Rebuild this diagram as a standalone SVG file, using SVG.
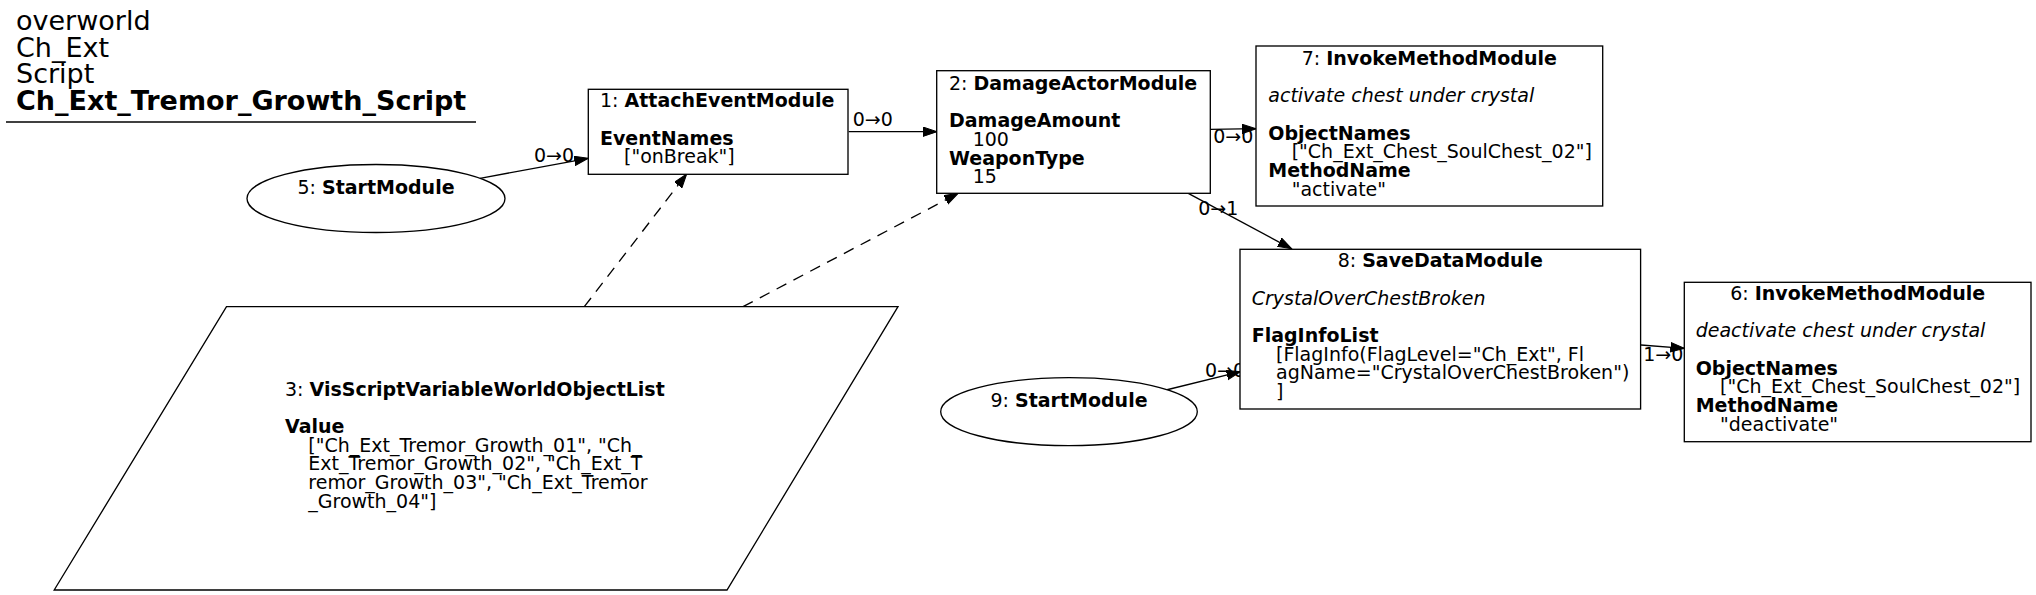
<svg xmlns="http://www.w3.org/2000/svg" width="2036" height="595" viewBox="0 0 2036 595">
<style>
text{font-family:"DejaVu Sans","Liberation Sans",sans-serif;font-size:19px;fill:#000}
.t{font-size:27px}
.b{font-weight:bold}
.i{font-style:italic}
.m{text-anchor:middle}
.box{fill:#fff;stroke:#000;stroke-width:1.33}
.e{fill:none;stroke:#000;stroke-width:1.33}
.d{stroke-dasharray:11,8}
</style>
<defs>
<marker id="ah" markerUnits="userSpaceOnUse" markerWidth="15" markerHeight="11" refX="14" refY="5" orient="auto" viewBox="0 0 15 11">
<path d="M0,0.3 L14,5 L0,9.7 z" fill="#000" stroke="#000" stroke-width="1"/>
</marker>
</defs>
<rect width="2036" height="595" fill="#fff"/>
<g id="title">
<text class="t" x="16" y="30">overworld</text>
<text class="t" x="16" y="56.7">Ch_Ext</text>
<text class="t" x="16" y="83.3">Script</text>
<text class="t b" x="16" y="110">Ch_Ext_Tremor_Growth_Script</text>
<line x1="6" y1="122" x2="476" y2="122" stroke="#000" stroke-width="1.33"/>
</g>
<g id="connectors">
<line class="e" x1="480" y1="178.3" x2="588.3" y2="158.3" marker-end="url(#ah)"/>
<text class="m" x="554" y="162">0→0</text>
<line class="e" x1="848.7" y1="131.7" x2="937" y2="131.7" marker-end="url(#ah)"/>
<text class="m" x="872.7" y="126">0→0</text>
<line class="e" x1="1210.3" y1="129.3" x2="1256" y2="128.7" marker-end="url(#ah)"/>
<text class="m" x="1233.3" y="143.3">0→0</text>
<line class="e" x1="1188.3" y1="193.3" x2="1291.7" y2="248.8" marker-end="url(#ah)"/>
<text class="m" x="1218.3" y="215">0→1</text>
<line class="e" x1="1166" y1="390" x2="1240.5" y2="371.7" marker-end="url(#ah)"/>
<text class="m" x="1225" y="376.7">0→0</text>
<line class="e" x1="1641" y1="345" x2="1684.5" y2="348.3" marker-end="url(#ah)"/>
<text class="m" x="1663.3" y="361">1→0</text>
<line class="e d" x1="584.3" y1="306.7" x2="686.7" y2="174" marker-end="url(#ah)"/>
<line class="e d" x1="743" y1="306.7" x2="958.3" y2="193.3" marker-end="url(#ah)"/>
</g>
<g id="node1">
<rect class="box" x="588.3" y="89.3" width="259.7" height="85"/>
<text x="600" y="107.3">1: <tspan class="b">AttachEventModule</tspan></text>
<text class="b" x="600" y="144.7">EventNames</text>
<text x="624" y="163.3">["onBreak"]</text>
</g>
<g id="node2">
<rect class="box" x="936.7" y="70.7" width="273.6" height="122.6"/>
<text x="949" y="90">2: <tspan class="b">DamageActorModule</tspan></text>
<text class="b" x="949" y="127.3">DamageAmount</text>
<text x="972.7" y="146">100</text>
<text class="b" x="949" y="164.7">WeaponType</text>
<text x="972.7" y="183.3">15</text>
</g>
<g id="node7">
<rect class="box" x="1256" y="46" width="346.7" height="160"/>
<text class="m" x="1429.3" y="65">7: <tspan class="b">InvokeMethodModule</tspan></text>
<text class="i" x="1268.3" y="102.3">activate chest under crystal</text>
<text class="b" x="1268.3" y="139.7">ObjectNames</text>
<text x="1291.7" y="158.3">["Ch_Ext_Chest_SoulChest_02"]</text>
<text class="b" x="1268.3" y="177">MethodName</text>
<text x="1291.7" y="195.7">"activate"</text>
</g>
<g id="node8">
<rect class="box" x="1240" y="249.3" width="400.6" height="159.7"/>
<text class="m" x="1440.3" y="267.3">8: <tspan class="b">SaveDataModule</tspan></text>
<text class="i" x="1251.7" y="304.7">CrystalOverChestBroken</text>
<text class="b" x="1251.7" y="342">FlagInfoList</text>
<text x="1276" y="360.7">[FlagInfo(FlagLevel="Ch_Ext", Fl</text>
<text x="1276" y="379.3">agName="CrystalOverChestBroken")</text>
<text x="1276" y="398">]</text>
</g>
<g id="node6">
<rect class="box" x="1684.3" y="282.3" width="346.7" height="159.4"/>
<text class="m" x="1857.7" y="300">6: <tspan class="b">InvokeMethodModule</tspan></text>
<text class="i" x="1695.7" y="337.3">deactivate chest under crystal</text>
<text class="b" x="1695.7" y="374.7">ObjectNames</text>
<text x="1720" y="393.3">["Ch_Ext_Chest_SoulChest_02"]</text>
<text class="b" x="1695.7" y="412">MethodName</text>
<text x="1720" y="430.7">"deactivate"</text>
</g>
<g id="node5">
<ellipse class="box" cx="376" cy="198.5" rx="129" ry="34"/>
<text class="m" x="376" y="194.3">5: <tspan class="b">StartModule</tspan></text>
</g>
<g id="node9">
<ellipse class="box" cx="1069" cy="411.7" rx="128.3" ry="34"/>
<text class="m" x="1069" y="406.7">9: <tspan class="b">StartModule</tspan></text>
</g>
<g id="node3">
<polygon class="box" points="226.5,306.7 898,306.7 727,590 54.2,590"/>
<text x="285" y="395.5">3: <tspan class="b">VisScriptVariableWorldObjectList</tspan></text>
<text class="b" x="285" y="432.8">Value</text>
<text x="308.3" y="451.5">["Ch_Ext_Tremor_Growth_01", "Ch_</text>
<text x="308.3" y="470.2">Ext_Tremor_Growth_02", "Ch_Ext_T</text>
<text x="308.3" y="488.8">remor_Growth_03", "Ch_Ext_Tremor</text>
<text x="308.3" y="507.5">_Growth_04"]</text>
</g>
</svg>
